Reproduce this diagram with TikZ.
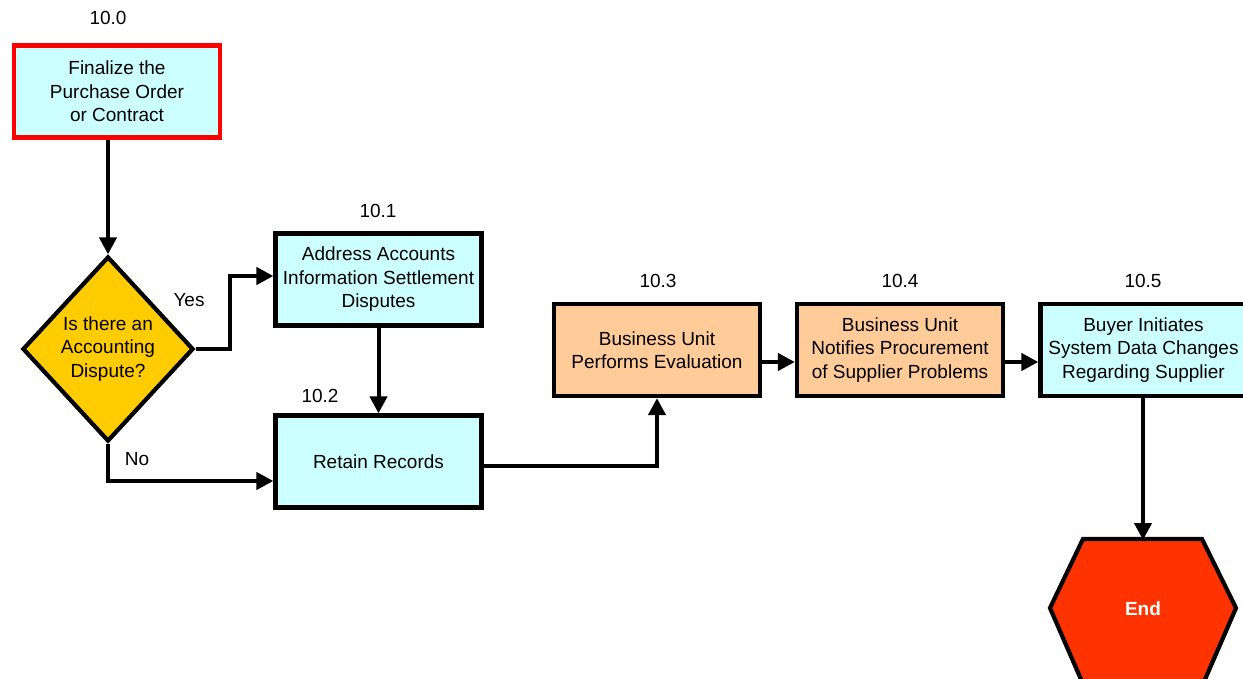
\documentclass[tikz,border=0pt]{standalone}
\usepackage{fontspec}
\setmainfont{Liberation Sans}
\usetikzlibrary{arrows.meta,shapes.geometric}

\definecolor{procblue}{HTML}{CCFFFF}
\definecolor{procorange}{HTML}{FFCC99}
\definecolor{decyellow}{HTML}{FFCC00}
\definecolor{endred}{HTML}{FF3300}
\definecolor{startred}{HTML}{FF0000}

\tikzset{
  txt/.style={font=\fontsize{19}{23.5}\selectfont},
  proc/.style={txt, draw=black, line width=4.2pt, fill=procblue,
    minimum width=206pt, minimum height=92pt, inner sep=0pt, align=center},
  orangeproc/.style={proc, fill=procorange},
  startproc/.style={proc, draw=startred},
  decision/.style={txt, diamond, draw=black, line width=4.2pt, fill=decyellow,
    minimum width=171pt, minimum height=185pt, inner sep=0pt, align=center},
  numlabel/.style={txt, inner sep=0pt},
  flow/.style={line width=4pt, -{Triangle[length=17pt,width=17pt]}},
}

\begin{document}
\begin{tikzpicture}[x=1pt,y=-1pt]
  \useasboundingbox (0,0) rectangle (1243,679);
  \clip (0,0) rectangle (1243,679);

  % process boxes
  \node[startproc]  (b0) at (117,91.5)    {Finalize the\\Purchase Order\\or Contract};
  \node[decision]   (dec) at (108,349)    {Is there an\\Accounting\\Dispute?};
  \node[proc]       (b1) at (378.5,279.5) {Address Accounts\\Information Settlement\\Disputes};
  \node[proc]       (b2) at (378.5,461.5) {Retain Records};
  \node[orangeproc] (b3) at (657,350)     {Business Unit\\Performs Evaluation};
  \node[orangeproc] (b4) at (900,350)     {Business Unit\\Notifies Procurement\\of Supplier Problems};
  \node[proc]       (b5) at (1143.5,350)  {Buyer Initiates\\System Data Changes\\Regarding Supplier};

  % terminal hexagon, running off the lower edge
  \filldraw[fill=endred, draw=black, line width=4.2pt, line join=miter]
    (1083,539) -- (1202,539) -- (1236,608) -- (1203,684) -- (1083,684) -- (1050,608) -- cycle;
  \node[txt, minimum width=186pt, minimum height=138pt, inner sep=0pt, outer sep=0pt,
        text=white, font=\fontsize{19}{22}\selectfont\bfseries] (end) at (1143,609) {End};

  % step numbers
  \node[numlabel] (n0) at (108,18)  {10.0};
  \node[numlabel] (n1) at (378,211) {10.1};
  \node[numlabel] (n2) at (320,396) {10.2};
  \node[numlabel] (n3) at (658,281) {10.3};
  \node[numlabel] (n4) at (900,281) {10.4};
  \node[numlabel] (n5) at (1143,281) {10.5};

  % branch labels
  \node[numlabel] (yes) at (189,300) {Yes};
  \node[numlabel] (no)  at (137,459) {No};

  % connectors
  \draw[flow] (b0.south -| dec.north) -- (dec.north);
  \draw[flow] (dec.east) -- ++(34,0) |- ([yshift=3.5pt]b1.west);
  \draw[flow] (dec.south) |- ([yshift=-19.5pt]b2.west);
  \draw[flow] (b1.south) -- (b2.north);
  \draw[flow] ([yshift=-4.5pt]b2.east) -| (b3.south);
  \draw[flow] ([yshift=-12pt]b3.east) -- ([yshift=-12pt]b4.west);
  \draw[flow] ([yshift=-12pt]b4.east) -- ([yshift=-12pt]b5.west);
  \draw[flow] (b5.south -| end.north) -- (end.north);
\end{tikzpicture}
\end{document}
